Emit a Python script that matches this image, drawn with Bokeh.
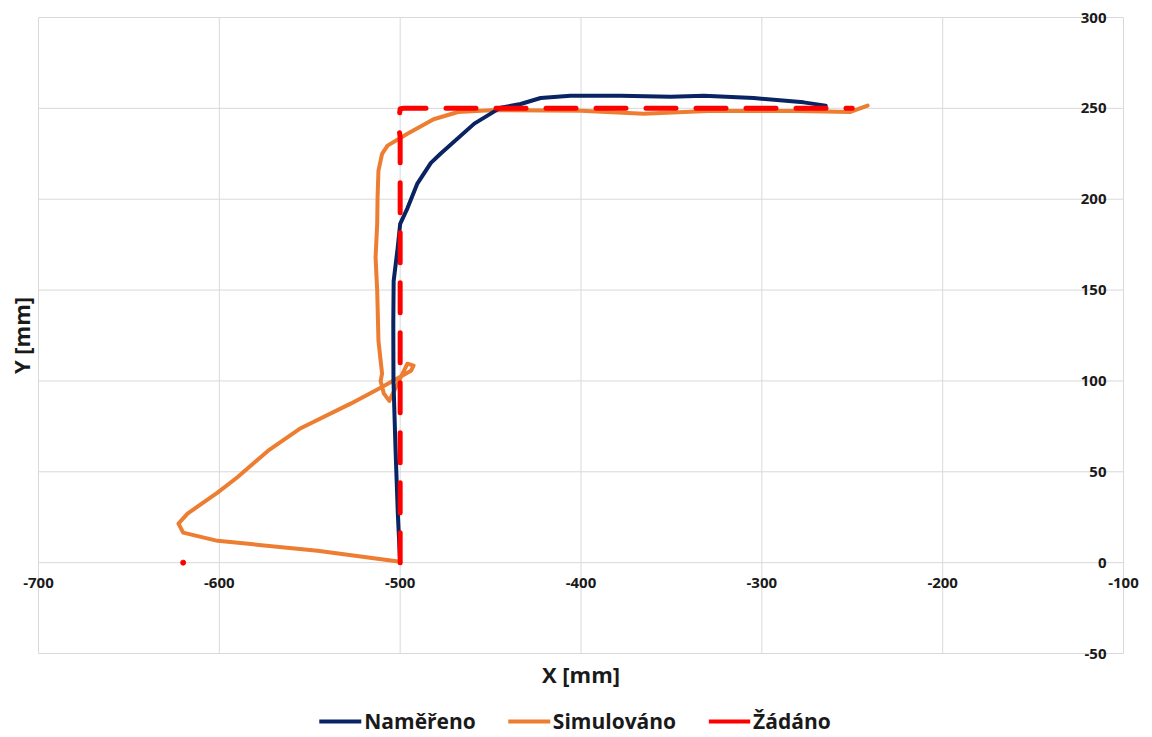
import math
from bokeh.plotting import figure
from bokeh.models import Legend, LegendItem, Label, LabelSet, ColumnDataSource, Range1d
from bokeh.core.properties import value
from bokeh.embed import file_html
from bokeh.resources import INLINE

# ---- data ----
x_ticks = [-700, -600, -500, -400, -300, -200, -100]
y_ticks = [-50, 0, 50, 100, 150, 200, 250, 300]
x_title = "X [mm]"
y_title = "Y [mm]"
series_names = ["Naměřeno", "Simulováno", "Žádáno"]

# Naměřeno (measured)
nam_x = [-500, -501.3, -502.6, -503.7, -503.8, -503.6, -501.4, -500, -496,
         -490.6, -483, -477.7, -459, -444.5, -433.4, -422.3, -405.8, -378,
         -350.4, -332, -304.5, -276.9, -264.7]
nam_y = [0, 27, 63.5, 100, 131.5, 155, 173, 186.4, 195,
         208.4, 220, 225, 241.6, 250.4, 252.4, 255.7, 257, 257,
         256.4, 257, 255.7, 253.3, 251.5]

# Simulováno (simulated)
sim_x = [-500, -545.7, -601, -620, -622.6, -617.6, -601, -590, -573, -555,
         -527.4, -510.8, -494, -492.6, -496, -506, -509, -510.8, -510, -512,
         -512.7, -513.6, -512.7, -512.5, -512, -510, -507, -496, -481.5, -468,
         -450, -400, -365.4, -330, -280, -251, -241.5]
sim_y = [0.5, 6.6, 12, 16.5, 21.5, 27, 38.5, 47, 61.6, 74,
         87.5, 96.3, 105.6, 108.4, 109.5, 89, 93, 100, 104, 122,
         149.7, 168, 186.5, 201, 215.7, 225, 229.5, 236, 244, 248,
         249, 248.7, 247, 248.5, 248.5, 248, 251.5]

# Žádáno (requested)
zad_x = [-500, -500, -501, -500, -498, -250]
zad_y = [0, 234, 241.6, 249.8, 250, 250]
zad_start_x = [-620]
zad_start_y = [0]

# ---- style / layout ----
NAVY = "#0a2463"
ORANGE = "#ed7d31"
RED = "#ff0000"
GRID = "#d9d9d9"
TXT = "#1a1a1a"
FONT = "Open Sans"

W, H = 1150, 737
PL, PR, PT, PB = 38, 27, 17, 84   # pixel margins around the plot area

x0, x1 = min(x_ticks), max(x_ticks)
y0, y1 = min(y_ticks), max(y_ticks)
sx = (W - PL - PR) / (x1 - x0)
sy = (H - PT - PB) / (y1 - y0)

p = figure(width=W, height=H, output_backend="svg", toolbar_location=None,
           x_axis_type=None, y_axis_type=None, min_border=0,
           x_range=Range1d(x0 - PL / sx, x1 + PR / sx),
           y_range=Range1d(y0 - PB / sy, y1 + PT / sy))
p.outline_line_color = None
p.grid.visible = False

# gridlines of the plot area (also serve as frame and axis lines)
p.segment(x0=x_ticks, y0=[y0] * len(x_ticks), x1=x_ticks, y1=[y1] * len(x_ticks),
          line_color=GRID, line_width=1)
p.segment(x0=[x0] * len(y_ticks), y0=y_ticks, x1=[x1] * len(y_ticks), y1=y_ticks,
          line_color=GRID, line_width=1)

# series
r_sim = p.line(sim_x, sim_y, line_color=ORANGE, line_width=4, line_cap="round",
               line_join="round")
r_nam = p.line(nam_x, nam_y, line_color=NAVY, line_width=4, line_cap="round",
               line_join="round")
r_zad = p.line(zad_x, zad_y, line_color=RED, line_width=5, line_dash="30 20",
               line_cap="round", line_join="round")
p.scatter(zad_start_x, zad_start_y, size=5, fill_color=RED, line_color=RED)
# legend swatch for Žádáno is drawn solid, like the original legend
r_zad_key = p.line(zad_start_x, zad_start_y, line_color=RED, line_width=4)

# tick labels where the axes cross (x labels along y=0, y labels at x=-100)
xlab = ColumnDataSource(dict(x=x_ticks, y=[0] * len(x_ticks), t=[str(v) for v in x_ticks]))
ylab = ColumnDataSource(dict(x=[x1] * len(y_ticks), y=y_ticks, t=[str(v) for v in y_ticks]))
p.add_layout(LabelSet(x="x", y="y", text="t", source=xlab, y_offset=-15,
                      text_align="center", text_baseline="top",
                      text_font=value(FONT), text_font_style="bold",
                      text_font_size="15px", text_color=TXT))
p.add_layout(LabelSet(x="x", y="y", text="t", source=ylab, x_offset=-17,
                      text_align="right", text_baseline="middle",
                      text_font=value(FONT), text_font_style="bold",
                      text_font_size="15px", text_color=TXT))

# axis titles
p.add_layout(Label(x=(x0 + x1) / 2, y=y0, y_offset=-20, text=x_title,
                   text_align="center", text_baseline="middle",
                   text_font=FONT, text_font_style="bold",
                   text_font_size="22px", text_color=TXT))
p.add_layout(Label(x=x0, y=(y0 + y1) / 2, x_offset=-18, text=y_title,
                   angle=math.pi / 2, text_align="center", text_baseline="middle",
                   text_font=FONT, text_font_style="bold",
                   text_font_size="22px", text_color=TXT))

legend = Legend(items=[LegendItem(label=series_names[0], renderers=[r_nam]),
                       LegendItem(label=series_names[1], renderers=[r_sim]),
                       LegendItem(label=series_names[2], renderers=[r_zad_key])],
                orientation="horizontal", location="bottom_center",
                border_line_alpha=0, background_fill_alpha=0,
                label_text_font=FONT, label_text_font_style="bold",
                label_text_font_size="21px", label_text_color=TXT,
                glyph_width=42, spacing=32,
                label_standoff=3, margin=0, padding=2)
p.add_layout(legend)

open("out.html", "w").write(file_html(p, INLINE))
